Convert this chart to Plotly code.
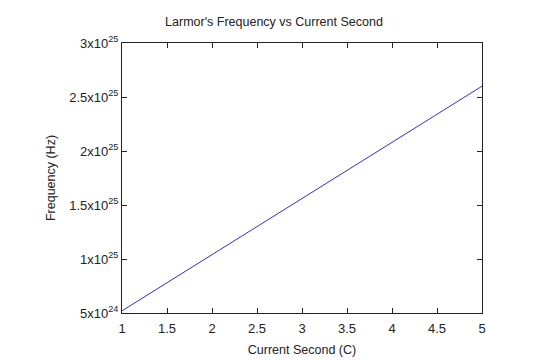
import plotly.graph_objects as go

current_second = [1, 2, 3, 4, 5]
frequency_hz = [5.2e24, 1.04e25, 1.56e25, 2.08e25, 2.6e25]

x_ticks = [1, 1.5, 2, 2.5, 3, 3.5, 4, 4.5, 5]
x_tick_labels = ["1", "1.5", "2", "2.5", "3", "3.5", "4", "4.5", "5"]
y_ticks = [5e24, 1e25, 1.5e25, 2e25, 2.5e25, 3e25]
y_tick_labels = ["5x10<sup>24</sup>", "1x10<sup>25</sup>", "1.5x10<sup>25</sup>",
                 "2x10<sup>25</sup>", "2.5x10<sup>25</sup>", "3x10<sup>25</sup>"]

font = "Liberation Sans, Arial, sans-serif"

fig = go.Figure()
fig.add_trace(go.Scatter(x=current_second, y=frequency_hz, mode="lines",
                         line=dict(color="#3a2cc8", width=1), showlegend=False))

axis_common = dict(showgrid=False, zeroline=False, showline=True, linecolor="#222",
                   linewidth=1, mirror="ticks", ticks="inside", ticklen=5,
                   tickcolor="#222", automargin=False,
                   tickfont=dict(family=font, size=13, color="#222"))

fig.update_layout(
    width=532, height=352,
    margin=dict(l=114, r=58, t=35, b=47),
    paper_bgcolor="white", plot_bgcolor="white",
    title=dict(text="Larmor's Frequency vs Current Second", x=0.5, xanchor="center",
               y=0.96, yanchor="middle",
               font=dict(family=font, size=12.5, color="#222")),
    xaxis=dict(range=[1, 5], tickvals=x_ticks, ticktext=x_tick_labels,
               ticklabelstandoff=3,
               title=dict(text="Current Second (C)", standoff=10,
                          font=dict(family=font, size=12.5, color="#222")),
               **axis_common),
    yaxis=dict(range=[5e24, 3e25], tickvals=y_ticks, ticktext=y_tick_labels,
               title=dict(text="Frequency (Hz)", standoff=10,
                          font=dict(family=font, size=12.5, color="#222")),
               **axis_common),
)

fig.write_html("out.html")
